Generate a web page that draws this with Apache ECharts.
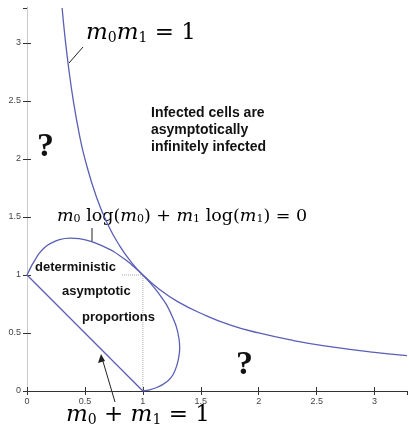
<!DOCTYPE html>
<html>
<head>
<meta charset="utf-8">
<script src="https://cdn.jsdelivr.net/npm/echarts@6/dist/echarts.min.js"></script>
<style>
  html, body { margin: 0; padding: 0; background: #fff; }
  #main { width: 409px; height: 432px; }
</style>
</head>
<body>
<div id="main"></div>
<script>
// tick labels
var tickValues = [0, 0.5, 1, 1.5, 2, 2.5, 3];

// m0 * m1 = 1
var hyperbola = [
  [0.303, 3.30], [0.33, 3.03], [0.36, 2.78], [0.40, 2.50], [0.45, 2.22],
  [0.50, 2.00], [0.60, 1.67], [0.70, 1.43], [0.80, 1.25], [0.90, 1.11],
  [1.00, 1.00], [1.15, 0.87], [1.30, 0.77], [1.50, 0.67], [1.75, 0.57],
  [2.00, 0.50], [2.30, 0.435], [2.60, 0.385], [3.00, 0.333], [3.28, 0.305]
];

// m0 log(m0) + m1 log(m1) = 0 loop, from (0,1) over the top to (1,0)
var entropyLoop = [
  [0.00, 1.00], [0.015, 1.03], [0.04, 1.08], [0.07, 1.13], [0.10, 1.18],
  [0.15, 1.235], [0.20, 1.27], [0.28, 1.305], [0.37, 1.318], [0.45, 1.312],
  [0.55, 1.29], [0.65, 1.25], [0.75, 1.20], [0.85, 1.13], [0.93, 1.065],
  [1.00, 1.00],
  [1.065, 0.93], [1.13, 0.85], [1.20, 0.75], [1.25, 0.65], [1.29, 0.55],
  [1.312, 0.45], [1.318, 0.37], [1.31, 0.29], [1.29, 0.21], [1.26, 0.14],
  [1.22, 0.09], [1.17, 0.055], [1.12, 0.03], [1.06, 0.01], [1.00, 0.00]
];

// m0 + m1 = 1
var simplex = [[0, 1], [1, 0]];

// dotted guides
var guideV = [[1, 0], [1, 1]];
var guideH = [[0.82, 1], [1, 1]];

var curveColor = '#5a5fb5';
var chart = echarts.init(document.getElementById('main'));

var mathRich = function (size) {
  return {
    m: { fontFamily: 'DejaVu Serif', fontStyle: 'italic', fontSize: size, color: '#111', lineHeight: size + 4 },
    s: { fontFamily: 'DejaVu Serif', fontSize: Math.round(size * 0.62), color: '#111', padding: [Math.round(size * 0.42), 0, 0, 0] },
    r: { fontFamily: 'DejaVu Serif', fontSize: size, color: '#111', lineHeight: size + 4 }
  };
};

var boldText = { fontFamily: 'Liberation Sans', fontWeight: 'bold', fontSize: 13, fill: '#111' };

var option = {
  animation: false,
  backgroundColor: '#fff',
  grid: { left: 27, right: 2, top: 8, bottom: 41 },
  xAxis: [{
    type: 'value', min: 0, max: 3.28, interval: 0.5,
    axisLine: { onZero: false, lineStyle: { color: '#333' } },
    axisTick: { inside: true, length: 4, lineStyle: { color: '#333' } },
    axisLabel: { color: '#444', fontSize: 9, fontFamily: 'Liberation Sans', margin: 6, showMaxLabel: false },
    splitLine: { show: false }
  }, {
    type: 'value', min: 0, max: 3.28, interval: 0.5, position: 'top',
    axisLine: { show: true, lineStyle: { color: '#333' } },
    axisTick: { show: true, inside: true, length: 4, lineStyle: { color: '#333' } },
    axisLabel: { show: false }, splitLine: { show: false }
  }],
  yAxis: [{
    type: 'value', min: 0, max: 3.3, interval: 0.5,
    axisLine: { show: true, onZero: false, lineStyle: { color: '#333' } },
    axisTick: { show: true, inside: true, length: 4, lineStyle: { color: '#333' } },
    axisLabel: { color: '#444', fontSize: 9, fontFamily: 'Liberation Sans', margin: 6, showMaxLabel: false },
    splitLine: { show: false }
  }, {
    type: 'value', min: 0, max: 3.3, interval: 0.5, position: 'right',
    axisLine: { show: true, lineStyle: { color: '#ccc' } },
    axisTick: { show: true, inside: true, length: 4, lineStyle: { color: '#333' } },
    axisLabel: { show: false }, splitLine: { show: false }
  }],
  series: [
    { type: 'line', data: hyperbola, smooth: true, showSymbol: false, lineStyle: { color: curveColor, width: 1.3 } },
    { type: 'line', data: entropyLoop, smooth: 0.3, showSymbol: false, lineStyle: { color: curveColor, width: 1.3 } },
    { type: 'line', data: simplex, showSymbol: false, lineStyle: { color: curveColor, width: 1.3 } },
    { type: 'line', data: guideV, showSymbol: false, lineStyle: { color: '#aaa', width: 1, type: 'dotted' }, z: 1 },
    { type: 'line', data: guideH, showSymbol: false, lineStyle: { color: '#aaa', width: 1, type: 'dotted' }, z: 1 }
  ]
};
chart.setOption(option);

// annotations
var graphics = [
  { type: 'text', left: 86, top: 22, style: { text: '{m|m}{s|0}{m|m}{s|1}{r| = 1}', rich: mathRich(23) } },
  { type: 'line', shape: { x1: 69, y1: 63, x2: 83, y2: 47 }, style: { stroke: '#222', lineWidth: 1 } },
  { type: 'text', left: 151, top: 105, style: Object.assign({ text: 'Infected cells are\nasymptotically\ninfinitely infected', lineHeight: 17, fontSize: 14 }, { fontFamily: 'Liberation Sans', fontWeight: 'bold', fill: '#111' }) },
  { type: 'text', left: 37, top: 130, style: { text: '?', fontFamily: 'Liberation Serif', fontWeight: 'bold', fontSize: 34, fill: '#111' } },
  { type: 'text', left: 236, top: 348, style: { text: '?', fontFamily: 'Liberation Serif', fontWeight: 'bold', fontSize: 34, fill: '#111' } },
  { type: 'text', left: 57, top: 207, style: { text: '{m|m}{s|0}{r| log(}{m|m}{s|0}{r|) + }{m|m}{s|1}{r| log(}{m|m}{s|1}{r|) = 0}', rich: mathRich(17.5) } },
  { type: 'line', shape: { x1: 92, y1: 228, x2: 92, y2: 242 }, style: { stroke: '#222', lineWidth: 1 } },
  { type: 'text', left: 35, top: 261, style: Object.assign({ text: 'deterministic' }, boldText) },
  { type: 'text', left: 62, top: 285, style: Object.assign({ text: 'asymptotic' }, boldText) },
  { type: 'text', left: 82, top: 311, style: Object.assign({ text: 'proportions' }, boldText) },
  { type: 'text', left: 66, top: 404, style: { text: '{m|m}{s|0}{r| + }{m|m}{s|1}{r| = 1}', rich: mathRich(23) } },
  { type: 'line', shape: { x1: 115, y1: 402, x2: 102, y2: 358 }, style: { stroke: '#222', lineWidth: 1 } },
  { type: 'polygon', shape: { points: [[101, 354], [98, 363], [105, 361]] }, style: { fill: '#222' } }
];
chart.setOption({ graphic: graphics });
</script>
</body>
</html>
